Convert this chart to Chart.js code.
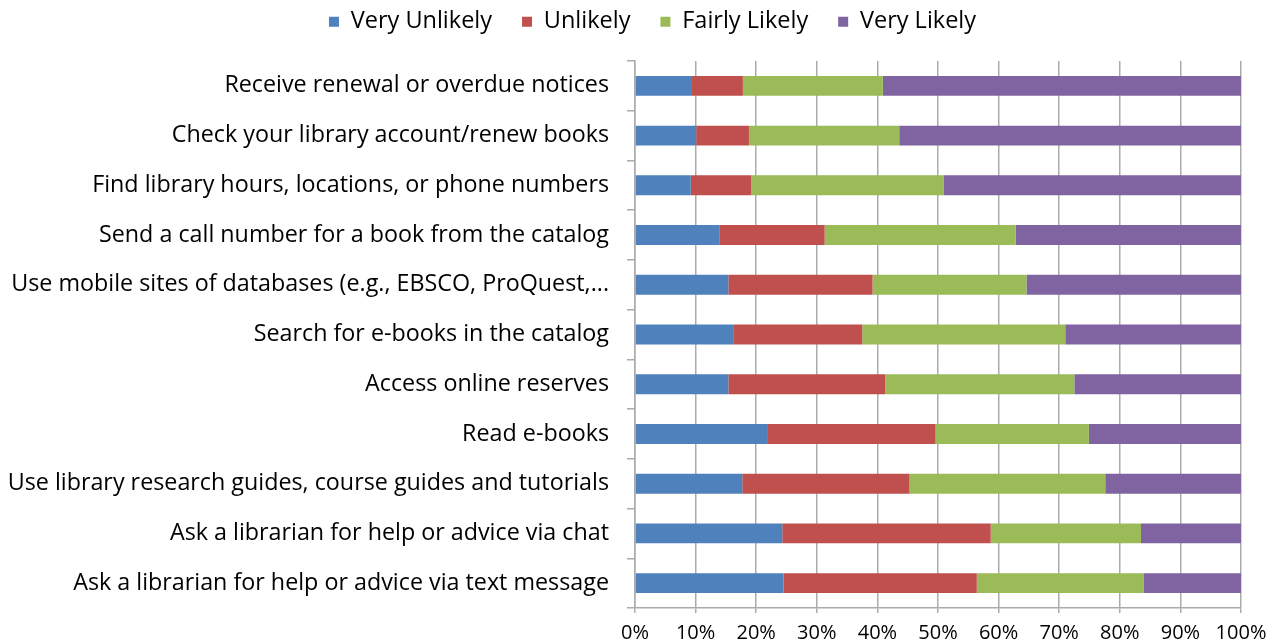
<!DOCTYPE html>
<html lang="en">
<head>
  <meta charset="UTF-8" />
  <title>Library Mobile Services</title>
  <script src="https://cdn.jsdelivr.net/npm/chart.js"></script>
  <style>
    body { margin: 0; background: #fff; }
    canvas { display: block; }
  </style>
</head>
<body>
  <canvas id="likelyChart" width="1275" height="643"></canvas>

  <script>
    const categories = [
      'Receive renewal or overdue notices',
      'Check your library account/renew books',
      'Find library hours, locations, or phone numbers',
      'Send a call number for a book from the catalog',
      'Use mobile sites of databases (e.g., EBSCO, ProQuest,...',
      'Search for e-books in the catalog',
      'Access online reserves',
      'Read e-books',
      'Use library research guides, course guides and tutorials',
      'Ask a librarian for help or advice via chat',
      'Ask a librarian for help or advice via text message'
    ];

    // percent of respondents
    const veryUnlikely = [9.4, 10.1, 9.2, 13.9, 15.4, 16.2, 15.4, 21.8, 17.7, 24.3, 24.5];
    const unlikely     = [8.4, 8.7, 10.0, 17.4, 23.8, 21.3, 25.9, 27.8, 27.6, 34.4, 31.9];
    const fairlyLikely = [23.1, 24.8, 31.7, 31.5, 25.4, 33.5, 31.2, 25.3, 32.3, 24.8, 27.5];
    const veryLikely   = [59.1, 56.4, 49.1, 37.2, 35.4, 29.0, 27.5, 25.1, 22.4, 16.5, 16.1];

    const seriesNames = ['Very Unlikely', 'Unlikely', 'Fairly Likely', 'Very Likely'];
    const xTicks = [0, 10, 20, 30, 40, 50, 60, 70, 80, 90, 100];

    const colors = ['#4F81BD', '#C0504D', '#9BBB59', '#8064A2'];
    const gridColor = '#ABABAB';
    const labelFont = { family: '"Open Sans", sans-serif', size: 23.3 };
    const legendFont = { family: '"Open Sans", sans-serif', size: 23.5 };
    const tickFont = { family: '"Open Sans", sans-serif', size: 20 };

    // fix the legend box height, then nudge it up/right like the original
    const legendPlace = {
      id: 'legendPlace',
      beforeInit(chart) {
        const fit = chart.legend.fit;
        chart.legend.fit = function () {
          fit.call(this);
          this.height = 61;
        };
      },
      afterLayout(chart) {
        const lg = chart.legend;
        lg.top -= 20;
        lg.bottom -= 20;
        lg.left += 32;
        lg.right += 32;
      }
    };

    const ctx = document.getElementById('likelyChart').getContext('2d');
    new Chart(ctx, {
      type: 'bar',
      data: {
        labels: categories,
        datasets: [veryUnlikely, unlikely, fairlyLikely, veryLikely].map((d, i) => ({
          label: seriesNames[i],
          data: d,
          backgroundColor: colors[i],
          borderWidth: 0,
          barPercentage: 0.4,
          categoryPercentage: 1
        }))
      },
      options: {
        indexAxis: 'y',
        responsive: false,
        animation: false,
        layout: { padding: { left: 0, right: 34, top: 0, bottom: 0 } },
        plugins: {
          legend: {
            position: 'top',
            labels: {
              font: legendFont,
              color: '#000',
              boxWidth: 10,
              boxHeight: 10,
              padding: 30
            }
          },
          tooltip: { enabled: false }
        },
        scales: {
          x: {
            stacked: true,
            min: 0,
            max: 100,
            afterBuildTicks(scale) {
              scale.ticks = xTicks.map(v => ({ value: v }));
            },
            afterFit(scale) { scale.height = 35; },
            ticks: {
              font: tickFont,
              color: '#000',
              padding: 8,
              maxRotation: 0,
              callback: v => v + '%'
            },
            grid: {
              color: gridColor,
              lineWidth: 1.5,
              tickLength: 5
            },
            border: { color: gridColor, width: 1.5 }
          },
          y: {
            stacked: true,
            afterFit(scale) { scale.width = 635; },
            ticks: {
              font: labelFont,
              color: '#000',
              padding: 18,
              autoSkip: false
            },
            grid: {
              drawOnChartArea: false,
              color: gridColor,
              lineWidth: 1.5,
              tickLength: 8
            },
            border: { color: gridColor, width: 1.5 }
          }
        }
      },
      plugins: [legendPlace]
    });
  </script>
</body>
</html>
